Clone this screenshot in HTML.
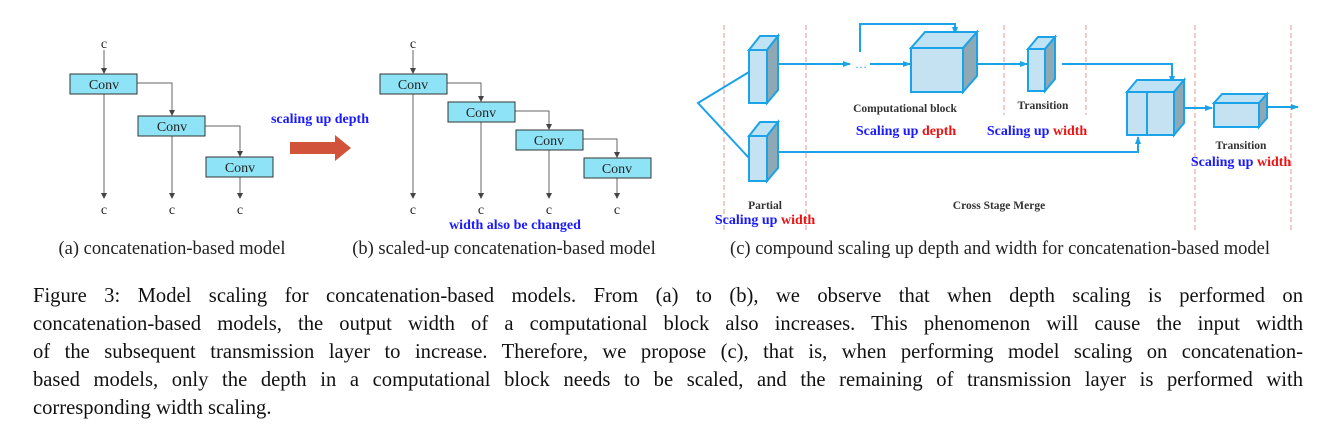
<!DOCTYPE html>
<html><head><meta charset="utf-8"><style>
body{margin:0;background:#fff;width:1342px;height:436px;overflow:hidden;position:relative;font-family:"Liberation Serif",serif}
svg{position:absolute;left:0;top:0}
.cap{position:absolute;left:33px;width:1270px;font-size:20.6px;color:#111;text-align:justify;text-align-last:justify;white-space:nowrap;line-height:28px}
.cap.l{text-align-last:left}
</style></head><body>
<svg width="1342" height="270" viewBox="0 0 1342 270" font-family="Liberation Serif, serif">
<defs>
<marker id="ga" markerUnits="userSpaceOnUse" markerWidth="6" markerHeight="6" refX="5" refY="3" orient="auto"><path d="M0,0L6,3L0,6z" fill="#444"/></marker>
<marker id="ba" markerUnits="userSpaceOnUse" markerWidth="8" markerHeight="8" refX="7" refY="4" orient="auto"><path d="M0,1L8,4L0,7z" fill="#1aa3e8"/></marker>
</defs>
<g stroke="#666" stroke-width="1" fill="none">
<line x1="104" y1="50" x2="104" y2="73" marker-end="url(#ga)"/>
<line x1="104" y1="94" x2="104" y2="198" marker-end="url(#ga)"/>
<polyline points="137,83 172,83 172,115" marker-end="url(#ga)"/>
<line x1="172" y1="136" x2="172" y2="198" marker-end="url(#ga)"/>
<polyline points="205,126 240,126 240,156" marker-end="url(#ga)"/>
<line x1="240" y1="177" x2="240" y2="198" marker-end="url(#ga)"/>
<line x1="413" y1="50" x2="413" y2="73" marker-end="url(#ga)"/>
<line x1="413" y1="94" x2="413" y2="198" marker-end="url(#ga)"/>
<polyline points="447,83 481,83 481,101" marker-end="url(#ga)"/>
<line x1="481" y1="122" x2="481" y2="198" marker-end="url(#ga)"/>
<polyline points="515,111 549,111 549,129" marker-end="url(#ga)"/>
<line x1="549" y1="150" x2="549" y2="198" marker-end="url(#ga)"/>
<polyline points="583,139 617,139 617,157" marker-end="url(#ga)"/>
<line x1="617" y1="178" x2="617" y2="198" marker-end="url(#ga)"/>
</g>
<g fill="#8ee4f6" stroke="#333" stroke-width="1">
<rect x="70" y="74" width="67" height="20"/><rect x="138" y="116" width="67" height="20"/><rect x="206" y="157" width="67" height="20"/>
<rect x="380" y="74" width="67" height="20"/><rect x="448" y="102" width="67" height="20"/><rect x="516" y="130" width="67" height="20"/><rect x="584" y="158" width="67" height="20"/>
</g>
<g font-size="14" fill="#222" text-anchor="middle">
<text x="104" y="89">Conv</text><text x="172" y="131">Conv</text><text x="240" y="172">Conv</text>
<text x="413" y="89">Conv</text><text x="481" y="117">Conv</text><text x="549" y="145">Conv</text><text x="617" y="173">Conv</text>
<text x="104" y="48">c</text><text x="413" y="48">c</text>
<text x="104" y="214">c</text><text x="172" y="214">c</text><text x="240" y="214">c</text>
<text x="413" y="214">c</text><text x="481" y="214">c</text><text x="549" y="214">c</text><text x="617" y="214">c</text>
</g>
<path d="M290,142H335V135L351,148L335,161V154H290z" fill="#d0533a"/>
<text x="320" y="123" font-size="14" font-weight="bold" fill="#1a1aff" text-anchor="middle">scaling up depth</text>
<text x="515" y="229" font-size="14" font-weight="bold" fill="#1a1aff" text-anchor="middle">width also be changed</text>
<g font-size="18.5" fill="#222" text-anchor="middle">
<text x="172" y="254">(a) concatenation-based model</text>
<text x="504" y="254">(b) scaled-up concatenation-based model</text>
<text x="1000" y="254">(c) compound scaling up depth and width for concatenation-based model</text>
</g>
<g stroke="#e8a8a0" stroke-width="1.2" stroke-dasharray="5,3">
<line x1="724" y1="25" x2="724" y2="230"/><line x1="806" y1="25" x2="806" y2="230"/>
<line x1="1004" y1="25" x2="1004" y2="115"/><line x1="1086" y1="25" x2="1086" y2="115"/>
<line x1="1195" y1="25" x2="1195" y2="230"/><line x1="1291" y1="25" x2="1291" y2="230"/>
</g>
<g stroke="#1aa3e8" stroke-width="2" fill="none">
<polyline points="749,72 698,103 749,158"/>
<line x1="775" y1="64" x2="850" y2="64" marker-end="url(#ba)"/>
<line x1="870" y1="64" x2="910" y2="64" marker-end="url(#ba)"/>
<polyline points="860,52 860,24 955,24 955,34" marker-end="url(#ba)"/>
<line x1="977" y1="64" x2="1027" y2="64" marker-end="url(#ba)"/>
<polyline points="1062,64 1172,64 1172,83" marker-end="url(#ba)"/>
<polyline points="775,152 1138,152 1138,137" marker-end="url(#ba)"/>
<line x1="1184" y1="108" x2="1212" y2="108" marker-end="url(#ba)"/>
<line x1="1268" y1="107" x2="1298" y2="107" marker-end="url(#ba)"/>
</g>
<text x="861" y="68" font-size="12" fill="#1aa3e8" text-anchor="middle">…</text>
<g stroke="#1aa3e8" stroke-width="2">
<path d="M749,50l11,-14h18l-11,14z" fill="#bfe3f5"/><path d="M767,50l11,-14v54l-11,13z" fill="#8fa9b4"/><rect x="749" y="50" width="18" height="53" fill="#c4e2f2"/>
<path d="M749,136l11,-14h18l-11,14z" fill="#bfe3f5"/><path d="M767,136l11,-14v46l-11,13z" fill="#8fa9b4"/><rect x="749" y="136" width="18" height="45" fill="#c4e2f2"/>
<path d="M911,48l14,-16h52l-14,16z" fill="#bfe3f5"/><path d="M963,48l14,-16v44l-14,16z" fill="#8fa9b4"/><rect x="911" y="48" width="52" height="44" fill="#c4e2f2"/>
<path d="M1028,49l10,-12h17l-10,12z" fill="#bfe3f5"/><path d="M1045,49l10,-12v42l-10,12z" fill="#8fa9b4"/><rect x="1028" y="49" width="17" height="42" fill="#c4e2f2"/>
<path d="M1127,92l10,-12h47l-10,12z" fill="#bfe3f5"/><path d="M1174,92l10,-12v43l-10,12z" fill="#8fa9b4"/><rect x="1127" y="92" width="20" height="43" fill="#c4e2f2"/><rect x="1147" y="92" width="27" height="43" fill="#c4e2f2"/>
<path d="M1214,103l8,-9h45l-8,9z" fill="#bfe3f5"/><path d="M1259,103l8,-9v24l-8,9z" fill="#8fa9b4"/><rect x="1214" y="103" width="45" height="24" fill="#c4e2f2"/>
</g>
<g font-size="11.5" font-weight="bold" fill="#333" text-anchor="middle">
<text x="905" y="112">Computational block</text>
<text x="1043" y="109">Transition</text>
<text x="1241" y="149">Transition</text>
<text x="765" y="209">Partial</text>
<text x="999" y="209">Cross Stage Merge</text>
</g>
<g font-size="14" font-weight="bold" fill="#1a1aff" text-anchor="middle">
<text x="906" y="135">Scaling up <tspan fill="#ee1111">depth</tspan></text>
<text x="1037" y="135">Scaling up <tspan fill="#ee1111">width</tspan></text>
<text x="1241" y="166">Scaling up <tspan fill="#ee1111">width</tspan></text>
<text x="765" y="224">Scaling up <tspan fill="#ee1111">width</tspan></text>
</g>
</svg>
<div class="cap" style="top:282px">Figure 3: Model scaling for concatenation-based models. From (a) to (b), we observe that when depth scaling is performed on</div>
<div class="cap" style="top:310px">concatenation-based models, the output width of a computational block also increases. This phenomenon will cause the input width</div>
<div class="cap" style="top:338px">of the subsequent transmission layer to increase. Therefore, we propose (c), that is, when performing model scaling on concatenation-</div>
<div class="cap" style="top:366px">based models, only the depth in a computational block needs to be scaled, and the remaining of transmission layer is performed with</div>
<div class="cap l" style="top:394px">corresponding width scaling.</div>
</body></html>
